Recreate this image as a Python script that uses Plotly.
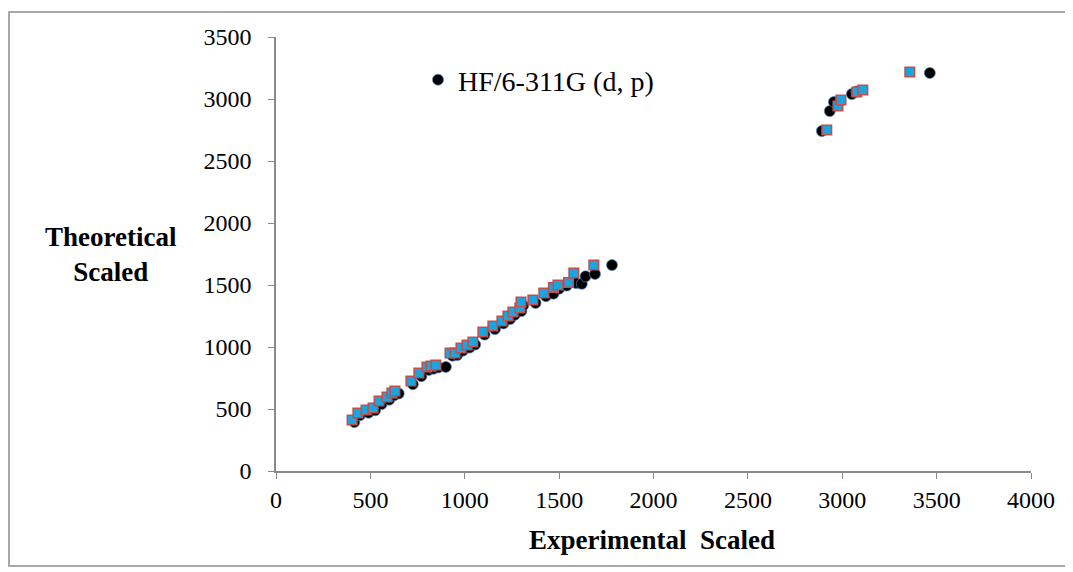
import plotly.graph_objects as go

# HF/6-311G (d, p) series (black circles)
hf_exp = [415, 445, 490, 525, 560, 600, 625, 650, 725, 770, 810, 835, 860, 900, 935, 960,
          990, 1025, 1055, 1105, 1160, 1205, 1240, 1265, 1300, 1310, 1375, 1430, 1470, 1500,
          1540, 1590, 1620, 1640, 1690, 1780, 2892, 2934, 2956, 2990, 3051, 3075, 3464]
hf_theo = [395, 450, 470, 490, 540, 575, 610, 625, 700, 765, 815, 825, 835, 839, 930, 935,
           970, 995, 1020, 1100, 1145, 1190, 1225, 1260, 1290, 1335, 1355, 1410, 1430, 1470,
           1495, 1516, 1510, 1570, 1589, 1661, 2742, 2903, 2976, 2985, 3040, 3060, 3210]

# second series (blue squares, red border)
sq_exp = [403, 434, 477, 514, 546, 588, 614, 630, 715, 757, 800, 821, 847, 922, 948, 980,
          1012, 1043, 1096, 1149, 1197, 1229, 1255, 1292, 1298, 1361, 1419, 1470, 1494, 1550,
          1578, 1684, 2918, 2977, 2993, 3077, 3109, 3358]
sq_theo = [411, 468, 492, 508, 565, 597, 629, 645, 726, 790, 839, 847, 855, 952, 952, 992,
           1016, 1040, 1121, 1169, 1210, 1250, 1282, 1315, 1363, 1379, 1435, 1480, 1500, 1520,
           1597, 1661, 2750, 2944, 2992, 3056, 3073, 3218]

x_ticks = [0, 500, 1000, 1500, 2000, 2500, 3000, 3500, 4000]
y_ticks = [0, 500, 1000, 1500, 2000, 2500, 3000, 3500]

OFF = 8  # page body margin
W, H = 1073 - OFF, 572 - OFF
# plot area in screenshot pixels
L, R, T, B = 276, 1031, 37, 471


def px(xp):
    return (xp - L) / (R - L)


def py(yp):
    return (B - yp) / (B - T)


FONT = "Liberation Serif, Times New Roman, serif"
AX = "#898989"

fig = go.Figure()
fig.add_trace(go.Scatter(
    x=hf_exp, y=hf_theo, mode="markers", name="HF/6-311G (d, p)",
    marker=dict(symbol="circle", size=11, color="black",
                line=dict(color="rgba(79,129,189,0.7)", width=1)),
))
fig.add_trace(go.Scatter(
    x=sq_exp, y=sq_theo, mode="markers", name="B3LYP", showlegend=False,
    marker=dict(symbol="square", size=9.5, color="#1BA5E0",
                line=dict(color="#C0504D", width=1.6)),
))

axis_common = dict(showgrid=False, zeroline=False, showline=True, linecolor=AX,
                   linewidth=1.5, ticks="outside", tickcolor=AX, ticklen=6,
                   tickwidth=1.3, tickfont=dict(family=FONT, size=24, color="black"))
fig.update_xaxes(range=[0, 4000], tickvals=x_ticks, **axis_common)
fig.update_yaxes(range=[0, 3500], tickvals=y_ticks, ticklabelstandoff=12, **axis_common)

fig.update_layout(
    width=W, height=H,
    margin=dict(l=L - OFF, r=W - (R - OFF), t=T - OFF, b=H - (B - OFF)),
    paper_bgcolor="white", plot_bgcolor="white",
    font=dict(family=FONT, color="black"),
    showlegend=True,
    legend=dict(x=px(418), y=py(80), xanchor="left", yanchor="middle",
                bgcolor="rgba(0,0,0,0)", font=dict(family=FONT, size=28)),
    annotations=[
        dict(text="<b>Experimental  Scaled</b>", x=px(652), y=py(540), xref="paper",
             yref="paper", showarrow=False, font=dict(family=FONT, size=27),
             xanchor="center", yanchor="middle"),
        dict(text="<b>Theoretical<br>Scaled</b>", x=px(111), y=py(254), xref="paper",
             yref="paper", showarrow=False, font=dict(family=FONT, size=27),
             xanchor="center", yanchor="middle", align="center"),
    ],
    shapes=[
        dict(type="rect", xref="paper", yref="paper", x0=px(9), x1=px(1071),
             y0=py(566), y1=py(12), line=dict(color="#8c8c8c", width=1.5),
             fillcolor="rgba(0,0,0,0)", layer="below"),
    ],
)

fig.write_html("out.html")
